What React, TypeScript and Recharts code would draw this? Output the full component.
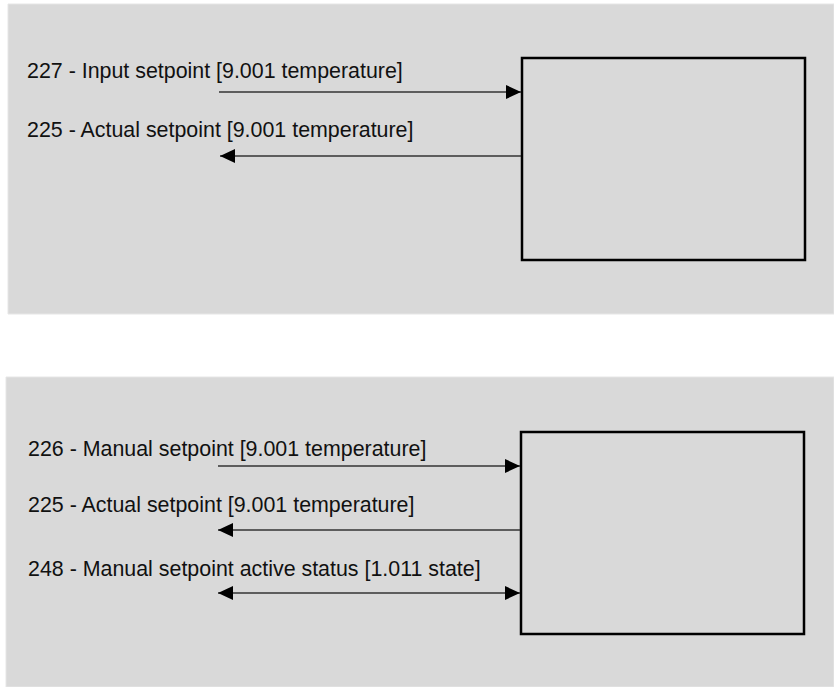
import { ComposedChart, XAxis, YAxis, ReferenceArea, ReferenceLine, Scatter } from "recharts"

// diagram space: x 0..834, y 0..687 (y grows downward)
const panelX1 = [8, 6]
const panelY1 = [4, 377]
const panelY2 = [314, 687]

const boxX1 = [522, 521]
const boxX2 = [805, 804]
const boxY1 = [58, 432]
const boxY2 = [260, 634]

const signalLabels = [
  "227 - Input setpoint [9.001 temperature]",
  "225 - Actual setpoint [9.001 temperature]",
  "226 - Manual setpoint [9.001 temperature]",
  "225 - Actual setpoint [9.001 temperature]",
  "248 - Manual setpoint active status [1.011 state]",
]
const labelX = [27, 27, 28, 28, 28]
const labelY = [78, 137, 456, 512, 576]

const arrowY = [92, 156, 466, 530, 593]
const arrowLeft = [219, 220, 218, 218, 218]
const arrowRight = [521, 521, 520, 520, 520]
const arrowHeads = [["right"], ["left"], ["right"], ["left"], ["left", "right"]]

const labelData = signalLabels.map((text, i) => ({ x: labelX[i], y: labelY[i], text }))

const headData = arrowHeads.flatMap((dirs, i) =>
  dirs.map((dir) => ({ x: dir === "right" ? arrowRight[i] : arrowLeft[i], y: arrowY[i], dir }))
)

function ArrowHead(props: any) {
  const { cx, cy, payload } = props
  const s = payload.dir === "right" ? -1 : 1
  const pts = `${cx},${cy} ${cx + s * 15},${cy - 7} ${cx + s * 15},${cy + 7}`
  return <polygon points={pts} fill="#000" />
}

function SignalLabel(props: any) {
  const { cx, cy, payload } = props
  return (
    <text x={cx} y={cy} fontSize={21.4} fontFamily="'Liberation Sans', Arial, sans-serif" fill="#111">
      {payload.text}
    </text>
  )
}

export default function App() {
  return (
    <div style={{ position: "absolute", left: 0, top: 0, width: 834, height: 687, background: "#fff" }}>
      <ComposedChart width={834} height={687} margin={{ top: 0, right: 0, bottom: 0, left: 0 }}>
        <XAxis type="number" dataKey="x" domain={[0, 834]} allowDataOverflow hide />
        <YAxis type="number" dataKey="y" domain={[0, 687]} allowDataOverflow reversed hide />
        {panelX1.map((x1, i) => (
          <ReferenceArea
            key={`panel-${i}`}
            x1={x1}
            x2={834}
            y1={panelY1[i]}
            y2={panelY2[i]}
            fill="#d9d9d9"
            fillOpacity={1}
            stroke="#e6e6e6"
            strokeWidth={1}
          />
        ))}
        {boxX1.map((x1, i) => (
          <ReferenceArea
            key={`box-${i}`}
            x1={x1}
            x2={boxX2[i]}
            y1={boxY1[i]}
            y2={boxY2[i]}
            fill="none"
            fillOpacity={0}
            stroke="#000"
            strokeWidth={2.5}
          />
        ))}
        {arrowY.map((y, i) => (
          <ReferenceLine
            key={`arrow-${i}`}
            segment={[
              { x: arrowLeft[i], y },
              { x: arrowRight[i], y },
            ]}
            stroke="#333"
            strokeWidth={1.5}
          />
        ))}
        <Scatter data={headData} shape={ArrowHead} isAnimationActive={false} />
        <Scatter data={labelData} shape={SignalLabel} isAnimationActive={false} />
      </ComposedChart>
    </div>
  )
}
